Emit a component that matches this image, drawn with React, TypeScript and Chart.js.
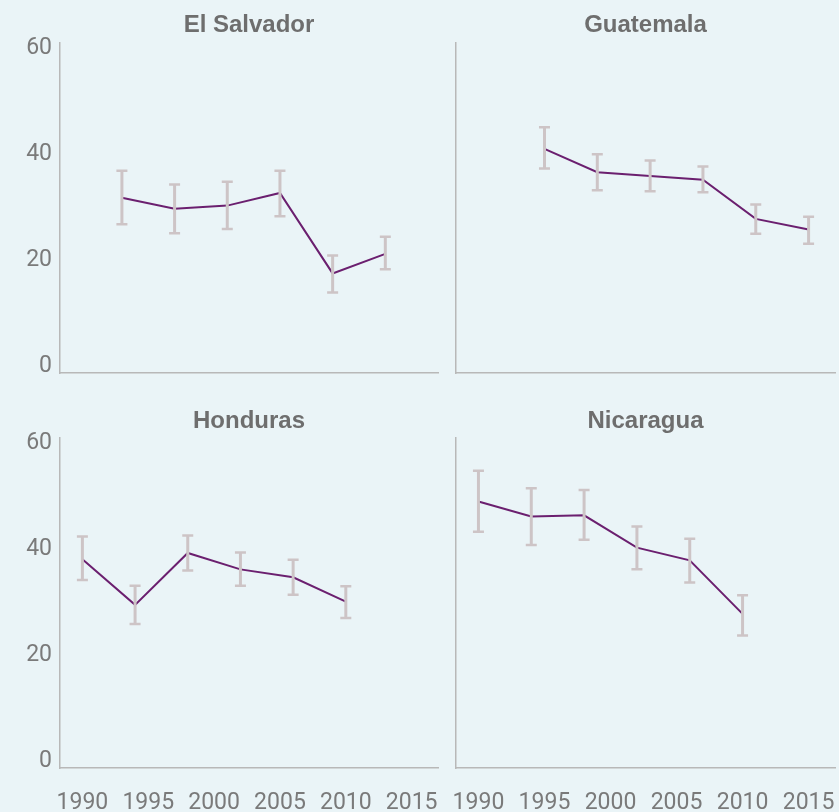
import React, { useEffect, useRef } from "react";
import { Chart, registerables } from "chart.js";

Chart.register(...registerables);

const xTickYears = [1990, 1995, 2000, 2005, 2010, 2015];
const yTickValues = [0, 20, 40, 60];

const elSalvadorYears = [1993, 1997, 2001, 2005, 2009, 2013];
const elSalvadorValue = [31.8, 29.7, 30.3, 32.7, 17.5, 21.2];
const elSalvadorLow = [26.8, 25.1, 25.9, 28.3, 13.9, 18.3];
const elSalvadorHigh = [36.9, 34.3, 34.8, 36.9, 20.9, 24.4];

const guatemalaYears = [1995, 1999, 2003, 2007, 2011, 2015];
const guatemalaValue = [41.0, 36.6, 35.9, 35.2, 27.8, 25.8];
const guatemalaLow = [37.3, 33.2, 33.0, 32.8, 25.0, 23.1];
const guatemalaHigh = [45.1, 40.0, 38.8, 37.7, 30.5, 28.2];

const hondurasYears = [1990, 1994, 1998, 2002, 2006, 2010];
const hondurasValue = [38.1, 29.5, 39.3, 36.2, 34.7, 30.1];
const hondurasLow = [34.2, 25.9, 36.0, 33.1, 31.4, 27.0];
const hondurasHigh = [42.4, 33.1, 42.6, 39.4, 38.0, 33.0];

const nicaraguaYears = [1990, 1994, 1998, 2002, 2006, 2010];
const nicaraguaValue = [49.0, 46.2, 46.4, 40.3, 37.9, 27.8];
const nicaraguaLow = [43.3, 40.8, 41.8, 36.2, 33.7, 23.7];
const nicaraguaHigh = [54.8, 51.5, 51.2, 44.3, 42.0, 31.3];

const BG = "#eaf4f7";
const LINE = "#6b1f6f";
const ERR = "#cdc4c6";
const AXIS = "#b8b8b8";
const TICK = "#7a7a7a";
const TITLE = "#6e6e6e";

const panels = [
  { title: "El Salvador", years: elSalvadorYears, value: elSalvadorValue, low: elSalvadorLow, high: elSalvadorHigh, row: 0, col: 0 },
  { title: "Guatemala", years: guatemalaYears, value: guatemalaValue, low: guatemalaLow, high: guatemalaHigh, row: 0, col: 1 },
  { title: "Honduras", years: hondurasYears, value: hondurasValue, low: hondurasLow, high: hondurasHigh, row: 1, col: 0 },
  { title: "Nicaragua", years: nicaraguaYears, value: nicaraguaValue, low: nicaraguaLow, high: nicaraguaHigh, row: 1, col: 1 },
];

const errorBarPlugin = {
  id: "errorBars",
  afterDatasetsDraw(chart: any, _args: any, opts: any) {
    const { ctx } = chart;
    const xs = chart.scales.x;
    const ys = chart.scales.y;
    const years: number[] = opts.years || [];
    const low: number[] = opts.low || [];
    const high: number[] = opts.high || [];
    ctx.save();
    ctx.strokeStyle = ERR;
    ctx.lineCap = "butt";
    years.forEach((yr, i) => {
      const px = xs.getPixelForValue(yr);
      const pl = ys.getPixelForValue(low[i]);
      const ph = ys.getPixelForValue(high[i]);
      ctx.lineWidth = 3;
      ctx.beginPath();
      ctx.moveTo(px, pl);
      ctx.lineTo(px, ph);
      ctx.stroke();
      ctx.lineWidth = 2.5;
      ctx.beginPath();
      ctx.moveTo(px - 5.5, pl);
      ctx.lineTo(px + 5.5, pl);
      ctx.moveTo(px - 5.5, ph);
      ctx.lineTo(px + 5.5, ph);
      ctx.stroke();
    });
    ctx.restore();
  },
};

function geometry(row: number, col: number) {
  const left = col === 0 ? 0 : 446;
  const width = col === 0 ? 446 : 393;
  const top = row === 0 ? 0 : 400;
  const height = row === 0 ? 400 : 412;
  return { left, width, top, height };
}

const TICK_FONT = { family: "Roboto, 'Liberation Sans', sans-serif", size: 23, weight: "normal" as any };

export default function App() {
  const refs = [useRef<HTMLCanvasElement>(null), useRef<HTMLCanvasElement>(null), useRef<HTMLCanvasElement>(null), useRef<HTMLCanvasElement>(null)];

  useEffect(() => {
    const charts: Chart[] = [];
    panels.forEach((p, idx) => {
      const canvas = refs[idx].current;
      if (!canvas) return;
      const showX = p.row === 1;
      const showY = p.col === 0;
      const chart = new Chart(canvas, {
        type: "line",
        data: {
          datasets: [
            {
              data: p.years.map((yr, i) => ({ x: yr, y: p.value[i] })),
              borderColor: LINE,
              borderWidth: 2,
              pointRadius: 0,
              tension: 0,
              fill: false,
            },
          ],
        },
        options: {
          animation: false,
          responsive: false,
          devicePixelRatio: 1,
          layout: { padding: { left: 0, right: p.col === 0 ? 8 : 4, top: 0, bottom: 0 } },
          plugins: {
            legend: { display: false },
            tooltip: { enabled: false },
            title: {
              display: true,
              fullSize: false,
              text: p.title,
              color: TITLE,
              font: { family: "'Liberation Sans', Arial, sans-serif", size: 24, weight: "bold", lineHeight: 1.15 },
              padding: p.row === 0 ? { top: 12, bottom: 3.4 } : { top: 7.2, bottom: 3.2 },
            },
            errorBars: { years: p.years, low: p.low, high: p.high },
          } as any,
          scales: {
            x: {
              type: "linear",
              min: 1988.3,
              max: 2017,
              grid: { display: false, drawTicks: false },
              border: { display: true, color: AXIS, width: 1.5 },
              ticks: {
                display: showX,
                color: TICK,
                padding: 21,
                maxRotation: 0,
                autoSkip: false,
                font: TICK_FONT,
                callback: (v: any) => String(v),
              },
              afterBuildTicks: (axis: any) => {
                axis.ticks = xTickYears.map((v) => ({ value: v }));
              },
              afterFit: (axis: any) => {
                axis.height = p.row === 0 ? 27 : 44;
                axis.paddingLeft = 0;
                axis.paddingRight = 0;
              },
            },
            y: {
              type: "linear",
              min: -1.3,
              max: 61,
              grid: { display: false, drawTicks: false },
              border: { display: true, color: AXIS, width: 1.5 },
              ticks: {
                display: showY,
                color: TICK,
                padding: 8,
                font: TICK_FONT,
                callback: (v: any) => String(v),
              },
              afterBuildTicks: (axis: any) => {
                axis.ticks = yTickValues.map((v) => ({ value: v }));
              },
              afterFit: (axis: any) => {
                axis.width = p.col === 0 ? 60 : 10;
                axis.paddingTop = 0;
                axis.paddingBottom = 0;
              },
            },
          },
        },
        plugins: [errorBarPlugin as any],
      });
      charts.push(chart);
    });
    return () => {
      charts.forEach((c) => c.destroy());
    };
  }, []);

  return (
    <div style={{ position: "fixed", left: 0, top: 0, width: 839, height: 812, background: BG, overflow: "hidden" }}>
      {panels.map((p, idx) => {
        const g = geometry(p.row, p.col);
        return (
          <canvas
            key={p.title}
            ref={refs[idx]}
            width={g.width}
            height={g.height}
            style={{ position: "absolute", left: g.left, top: g.top, width: g.width, height: g.height }}
          />
        );
      })}
    </div>
  );
}
